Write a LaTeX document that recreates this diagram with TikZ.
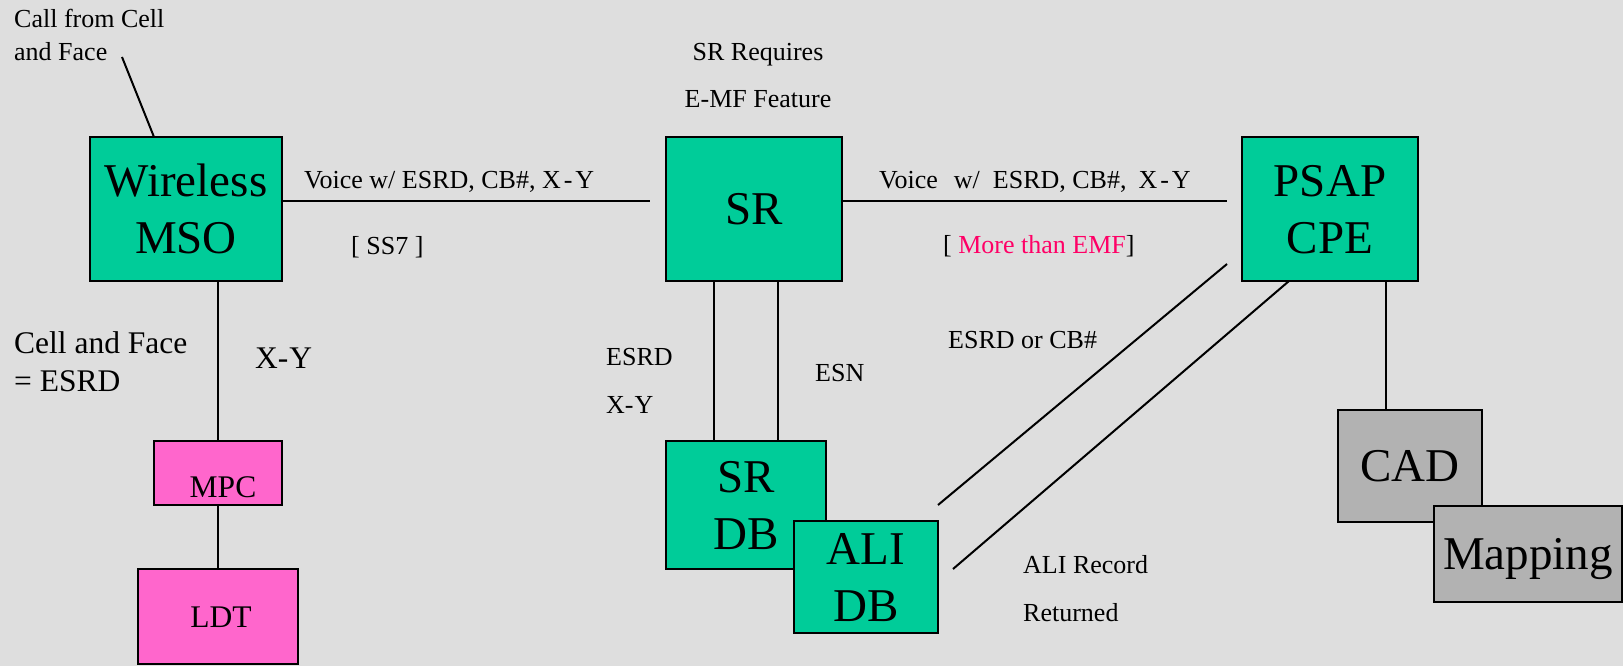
\documentclass[tikz,border=0pt]{standalone}
\usepackage{fontspec}
\setmainfont{Liberation Serif}
\usetikzlibrary{calc}
\definecolor{boxgreen}{HTML}{00CC99}
\definecolor{boxpink}{HTML}{FF66CC}
\definecolor{boxgrey}{HTML}{B2B2B2}
\definecolor{notered}{HTML}{FF0066}
\definecolor{paper}{HTML}{DEDEDE}
\tikzset{
  unit/.style={draw=black, line width=2.5pt, inner sep=0pt, outer sep=0pt, align=center},
  bigtext/.style={font=\fontsize{47}{57}\selectfont},
  oneline/.style={bigtext, text height=31pt, text depth=0pt},
  twoline/.style={bigtext, text height=88pt, text depth=0pt},
  greenunit/.style={unit, fill=boxgreen},
  greyunit/.style={unit, fill=boxgrey, oneline},
  pinkunit/.style={unit, fill=boxpink, font=\fontsize{31.5}{38}\selectfont},
  wire/.style={draw=black, line width=2pt},
  smalltxt/.style={inner sep=0pt, anchor=base west, font=\fontsize{26}{31}\selectfont},
  midtxt/.style={inner sep=0pt, anchor=base west, font=\fontsize{31.5}{38}\selectfont},
}
\newcommand{\xy}{X\kern3pt-\kern3pt Y}
\begin{document}
\begin{tikzpicture}[x=1pt,y=-1pt]
% paper
\fill[paper] (0,0) rectangle (1623,666);
\useasboundingbox (0,0) rectangle (1623,666);

% network elements
\node[greenunit, twoline, minimum width=192pt, minimum height=144pt] (mso) at (186,209) {Wireless\\MSO};
\node[greenunit, oneline, minimum width=176pt, minimum height=144pt] (sr) at (754,209) {SR};
\node[greenunit, twoline, minimum width=176pt, minimum height=144pt] (psap) at (1330,209) {PSAP\\CPE};
\node[greenunit, twoline, minimum width=160pt, minimum height=128pt] (srdb) at (746,505) {SR\\DB};
\node[greenunit, twoline, minimum width=144pt, minimum height=112pt] (alidb) at (866,577) {ALI\\DB};
\node[pinkunit, minimum width=128pt, minimum height=64pt, text height=48pt, text depth=0pt] (mpc) at (218,473) {\hspace*{10pt}MPC};
\node[pinkunit, minimum width=160pt, minimum height=95pt, text height=21pt, text depth=0pt] (ldt) at (218,616.5) {\hspace*{6pt}LDT};
\node[greyunit, minimum width=144pt, minimum height=112pt] (cad) at (1410,466) {CAD};
\node[greyunit, minimum width=188pt, minimum height=96pt] (mapping) at (1528,554) {Mapping};

% connections
\coordinate (callfoot) at (122,57);
\draw[wire] (callfoot) -- ($(mso.north west)+(64,0)$);
\coordinate (voiceA) at (650,201);
\draw[wire] ($(mso.east)+(0,-8)$) -- (voiceA);
\coordinate (voiceB) at (1227,201);
\draw[wire] ($(sr.east)+(0,-8)$) -- (voiceB);
\draw[wire] (mpc.north) -- (mpc.north |- mso.south);
\draw[wire] (mpc.south) -- (ldt.north);
\coordinate (esrdtop) at ($(srdb.north)+(-32,0)$);
\coordinate (esntop) at ($(srdb.north)+(32,0)$);
\draw[wire] (esrdtop) -- (esrdtop |- sr.south);
\draw[wire] (esntop) -- (esntop |- sr.south);
\coordinate (queryA) at (938,505);
\coordinate (queryB) at (1227,264);
\draw[wire] (queryA) -- (queryB);
\coordinate (recordA) at (953,569);
\draw[wire] (recordA) -- ($(psap.south west)+(47,0)$);
\coordinate (cadtop) at ($(cad.north west)+(48,0)$);
\draw[wire] (cadtop) -- (cadtop |- psap.south);

% labels
\node[smalltxt] (call1) at (14,28) {Call from Cell};
\node[smalltxt] (call2) at (14,61) {and Face};
\node[smalltxt, anchor=base] (req1) at (758,61) {SR Requires};
\node[smalltxt, anchor=base] (req2) at (758,108) {E-MF Feature};
\node[smalltxt] (voice1) at (304,189) {Voice w/ ESRD, CB\#, \xy};
\node[smalltxt] (ss7) at (351,254) {[ SS7 ]};
\node[smalltxt] (voice2) at (879,189) {Voice\hspace{16pt}w/\hspace{13pt}ESRD, CB\#,\hspace{12pt}\xy};
\node[smalltxt] (emf) at (943,253) {[ \textcolor{notered}{More than EMF}]};
\node[smalltxt] (esrd) at (606,365) {ESRD};
\node[smalltxt] (xysr) at (606,413) {X-\kern1pt Y};
\node[smalltxt] (esn) at (815,381) {ESN};
\node[smalltxt] (orcb) at (948,348) {ESRD or CB\#};
\node[smalltxt] (rec1) at (1023,573) {ALI Record};
\node[smalltxt] (rec2) at (1023,621) {Returned};
\node[midtxt] (cell1) at (14,353) {Cell and Face};
\node[midtxt] (cell2) at (14,391) {= ESRD};
\node[midtxt] (xymso) at (255,368) {X-\kern1pt Y};
\end{tikzpicture}
\end{document}
